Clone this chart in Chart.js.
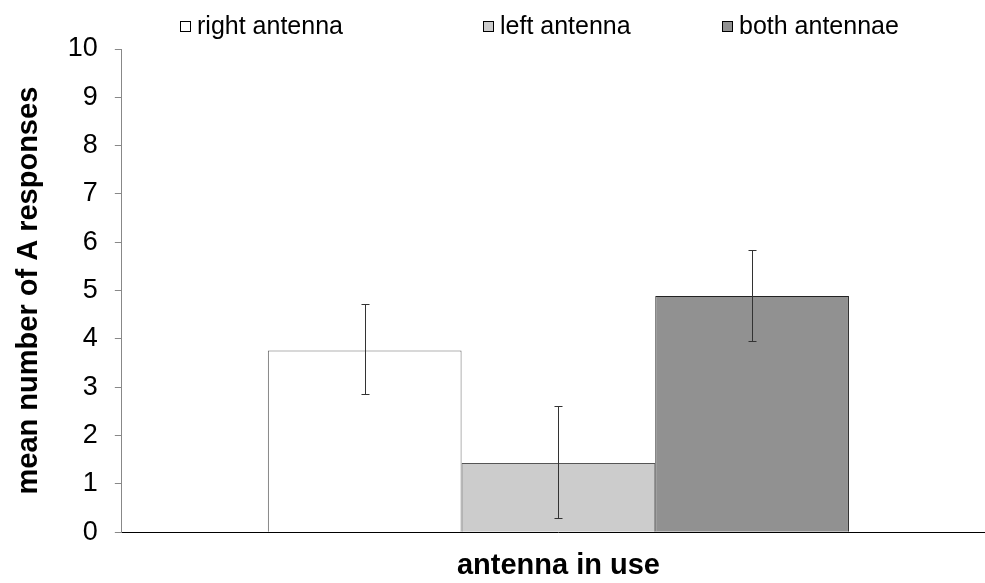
<!DOCTYPE html>
<html>
<head>
<meta charset="utf-8">
<script src="https://cdn.jsdelivr.net/npm/chart.js@4"></script>
<style>
html,body{margin:0;padding:0;background:#fff;overflow:hidden;}
#wrap{width:1000px;height:583px;position:relative;}
</style>
</head>
<body>
<div id="wrap"><canvas id="c"></canvas></div>
<script>
const categories = [''];
const seriesNames = ['right antenna', 'left antenna', 'both antennae'];
const meanValues = [3.76, 1.43, 4.89];
const errLow = [2.87, 0.29, 3.96];
const errHigh = [4.72, 2.62, 5.84];
const yTicks = [0,1,2,3,4,5,6,7,8,9,10];

const fills = ['#ffffff', '#cccccc', '#919191'];
const borders = ['#666666', '#555555', '#222222'];
const legendBoxX = [180, 483, 722];

const errorBars = {
  id: 'errorBars',
  afterDatasetsDraw(chart) {
    const ctx = chart.ctx;
    const ys = chart.scales.y;
    ctx.save();
    ctx.strokeStyle = '#333';
    ctx.lineWidth = 1;
    chart.data.datasets.forEach((ds, i) => {
      const bar = chart.getDatasetMeta(i).data[0];
      const x = Math.round(bar.x) + 0.5;
      const y1 = Math.round(ys.getPixelForValue(errLow[i])) + 0.5;
      const y2 = Math.round(ys.getPixelForValue(errHigh[i])) + 0.5;
      ctx.beginPath();
      ctx.moveTo(x, y1); ctx.lineTo(x, y2);
      ctx.moveTo(x - 4, y1); ctx.lineTo(x + 4, y1);
      ctx.moveTo(x - 4, y2); ctx.lineTo(x + 4, y2);
      ctx.stroke();
    });
    ctx.restore();
  }
};

const customLegend = {
  id: 'customLegend',
  afterDraw(chart) {
    const ctx = chart.ctx;
    ctx.save();
    ctx.font = '25px "Liberation Sans", Arial, sans-serif';
    ctx.textBaseline = 'middle';
    ctx.textAlign = 'left';
    seriesNames.forEach((name, i) => {
      const bx = legendBoxX[i];
      const by = 21;
      ctx.fillStyle = fills[i];
      ctx.fillRect(bx, by, 11, 11);
      ctx.strokeStyle = '#000';
      ctx.lineWidth = 1;
      ctx.strokeRect(bx + 0.5, by + 0.5, 10, 10);
      ctx.fillStyle = '#000';
      ctx.fillText(name, bx + 17, by + 6);
    });
    ctx.restore();
  }
};

new Chart(document.getElementById('c'), {
  type: 'bar',
  data: {
    labels: categories,
    datasets: seriesNames.map((n, i) => ({
      label: n,
      data: [meanValues[i]],
      backgroundColor: fills[i],
      borderColor: borders[i],
      borderWidth: 1,
      categoryPercentage: 0.6655,
      barPercentage: 1.0
    }))
  },
  options: {
    responsive: true,
    maintainAspectRatio: false,
    animation: false,
    layout: { padding: { left: 12, right: 5, top: 49, bottom: 0 } },
    plugins: {
      legend: { display: false },
      tooltip: { enabled: false }
    },
    scales: {
      x: {
        grid: { display: false, drawTicks: false },
        border: { color: '#000', width: 1 },
        ticks: { display: false },
        title: {
          display: true,
          text: 'antenna in use',
          font: { family: 'Liberation Sans', size: 29, weight: 'bold' },
          color: '#000',
          padding: { top: 16, bottom: 0 }
        }
      },
      y: {
        min: 0, max: 10,
        afterBuildTicks(axis) { axis.ticks = yTicks.map(v => ({ value: v })); },
        grid: { display: true, drawOnChartArea: false, drawTicks: true, tickLength: 7, color: '#888' },
        border: { color: '#888', width: 1 },
        ticks: {
          font: { family: 'Liberation Sans', size: 27 },
          color: '#000',
          padding: 17
        },
        title: {
          display: true,
          text: 'mean number of A responses',
          font: { family: 'Liberation Sans', size: 29, weight: 'bold' },
          color: '#000',
          padding: { top: 0, bottom: 4 }
        }
      }
    }
  },
  plugins: [errorBars, customLegend]
});
</script>
</body>
</html>
